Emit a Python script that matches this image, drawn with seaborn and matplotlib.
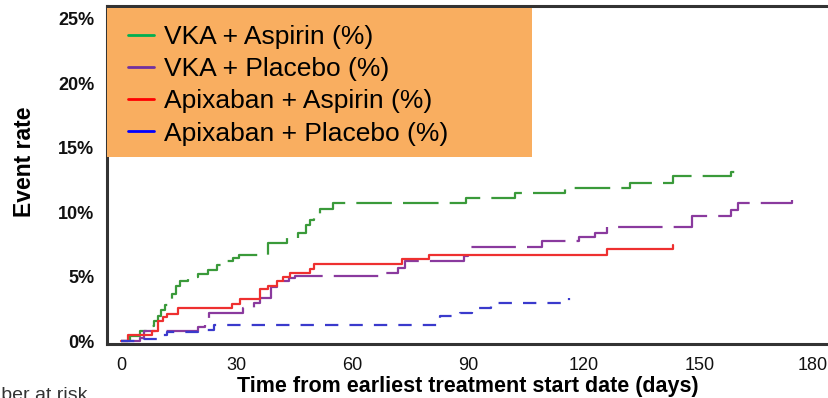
import numpy as np
import pandas as pd
import matplotlib
matplotlib.use("Agg")
import matplotlib.pyplot as plt
from matplotlib.lines import Line2D
from matplotlib.patches import Rectangle
import matplotlib.transforms as mtransforms
import seaborn as sns

# ---- data (days, cumulative event rate %) ----
groups = ["VKA + Aspirin (%)", "VKA + Placebo (%)", "Apixaban + Aspirin (%)", "Apixaban + Placebo (%)"]

green_days = [0, 2.3, 5, 7.5, 8.5, 9.5, 10.5, 11.5, 12.3, 13.2, 14.3, 15.2, 17.5, 20, 22.5, 25, 27, 29, 30.5, 38, 43, 46, 48, 49, 50, 51.5, 55, 89.5, 102, 115, 132, 143, 158, 159]
green_pct = [0, 0.4, 0.8, 1.2, 1.6, 2.0, 2.4, 2.8, 3.2, 3.7, 4.3, 4.7, 5.0, 5.2, 5.5, 5.9, 6.2, 6.5, 6.7, 7.6, 8.0, 8.4, 9.0, 9.4, 9.8, 10.3, 10.7, 11.1, 11.5, 11.9, 12.3, 12.8, 13.1, 13.1]

purple_days = [0, 5, 6, 20, 21.8, 22.8, 31.6, 34.5, 36, 39, 40.5, 42, 43.5, 45, 67, 71.8, 73.6, 89, 90, 109, 118.6, 122.8, 126, 148, 158, 160, 174]
purple_pct = [0, 0.3, 0.8, 1.1, 1.5, 2.2, 2.6, 3.0, 3.4, 4.2, 4.5, 4.7, 4.9, 5.05, 5.3, 5.7, 6.2, 6.6, 7.3, 7.8, 8.1, 8.4, 8.9, 9.7, 10.2, 10.7, 11.0]

red_days = [0, 1.8, 8, 9.6, 11, 12, 14.8, 28.7, 30.8, 36, 38, 40.4, 42, 43.8, 49, 50, 72.8, 79.8, 126, 143]
red_pct = [0, 0.5, 0.8, 1.6, 1.9, 2.1, 2.6, 2.9, 3.3, 4.1, 4.3, 4.7, 5.0, 5.3, 5.6, 6.0, 6.4, 6.7, 7.2, 7.5]

blue_days = [0, 6, 9.5, 12, 20, 24, 82.6, 87.8, 91, 96, 116]
blue_pct = [0, 0.2, 0.5, 0.7, 0.9, 1.3, 2.0, 2.2, 2.6, 3.0, 3.4]

x_ticks = [0, 30, 60, 90, 120, 150, 180]
y_ticks = [0, 5, 10, 15, 20, 25]
y_ticklabels = ["0%", "5%", "10%", "15%", "20%", "25%"]

line_colors = ["#3A9A3A", "#8A3A9E", "#EE3030", "#3A3ACC"]
legend_colors = ["#00B050", "#7030A0", "#FF0000", "#0000FF"]

# ---- build long table ----
frames = []
for g, d, p in zip(groups, [green_days, purple_days, red_days, blue_days],
                   [green_pct, purple_pct, red_pct, blue_pct]):
    frames.append(pd.DataFrame({"day": d, "rate": p, "group": g}))
df = pd.concat(frames, ignore_index=True)

sns.set_style("white")
plt.rcParams["font.family"] = ["Liberation Sans", "DejaVu Sans"]
plt.rcParams["text.color"] = "black"
plt.rcParams["axes.labelcolor"] = "black"
plt.rcParams["xtick.color"] = "#222222"
plt.rcParams["ytick.color"] = "#222222"

fig = plt.figure(figsize=(8.29, 3.98), dpi=100)
AX_L, AX_R, AX_T, AX_B = 107, 828, 6, 344
axw, axh = AX_R - AX_L, AX_B - AX_T
ax = fig.add_axes([AX_L / 829, 1 - AX_B / 398, axw / 829, axh / 398])

sns.lineplot(data=df, x="day", y="rate", hue="group", style="group",
             hue_order=groups, style_order=groups,
             palette=dict(zip(groups, line_colors)),
             dashes={groups[0]: (16, 5), groups[1]: (20, 5), groups[2]: "", groups[3]: (6, 5)},
             drawstyle="steps-post", estimator=None, linewidth=1.6,
             legend=False, ax=ax)

ax.set_xlim(-3.6, 183.2)
ax.set_ylim(-0.2, 26.0)
ax.set_xticks(x_ticks)
ax.set_xticklabels([str(t) for t in x_ticks], fontsize=13, color="#111111")
ax.set_yticks(y_ticks)
ax.set_yticklabels(y_ticklabels, fontweight="bold", fontsize=13, color="#111111")
ax.tick_params(axis="both", direction="out", length=6, width=1.5, pad=3)
# keep the last tick label inside the canvas
last = ax.get_xticklabels()[-1]
last.set_transform(last.get_transform() + mtransforms.ScaledTranslation(-3 / 100, 0, fig.dpi_scale_trans))

for s in ["left", "bottom", "top"]:
    ax.spines[s].set_linewidth(2.2)
    ax.spines[s].set_color("#333333")
ax.spines["right"].set_visible(False)

ax.set_xlabel("Time from earliest treatment start date (days)", fontweight="bold",
              fontsize=15.5, labelpad=2)
ax.set_ylabel("Event rate", fontweight="bold", fontsize=16.5)
ax.yaxis.set_label_coords((36 - AX_L) / axw, (AX_B - 162) / axh)

# legend background box
ax.add_patch(Rectangle((0, 1 - (157 - AX_T) / axh), (532 - AX_L) / axw, (157 - 8) / axh,
                       transform=ax.transAxes, facecolor="#F9AE60", edgecolor="none", zorder=3))
handles = [Line2D([0], [0], color=c, lw=2) for c in legend_colors]
leg = ax.legend(handles, groups, loc="upper left",
                bbox_to_anchor=((128 - AX_L) / axw, 1 - (25 - AX_T) / axh),
                frameon=False, fontsize=19, handlelength=1.0, handletextpad=0.35,
                labelspacing=0.31, borderpad=0, borderaxespad=0)
for t in leg.get_texts():
    t.set_color("black")
leg.set_zorder(4)

fig.text(88 / 829, 1 - 387 / 398, "Number at risk", ha="right", va="top",
         fontsize=14, color="#333333")

fig.savefig("out.png", dpi=100)
